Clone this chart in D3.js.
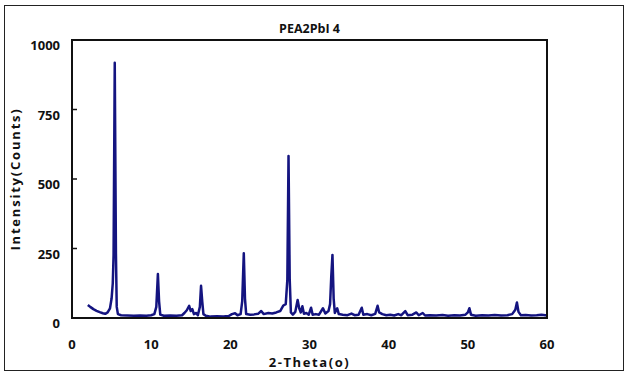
<!DOCTYPE html>
<html lang="en">
<head>
<meta charset="UTF-8">
<title>PEA2PbI4 XRD</title>
<script src="https://d3js.org/d3.v7.min.js"></script>
<style>
    body { margin: 0; background: #fff; }
    text { font-family: "Open Sans", "DejaVu Sans", sans-serif; font-weight: 700; fill: #111; }
</style>
</head>
<body>
<div id="chart"></div>
<script>
// XRD pattern (2-theta in degrees, intensity in counts)
var twoTheta = [2.0, 2.3, 2.7, 3.1, 3.5, 3.9, 4.2, 4.5, 4.8, 5.0, 5.15, 5.25, 5.4, 5.55, 5.65, 5.8, 6.2, 7.0, 7.8, 8.6,
    9.4, 10.0, 10.4, 10.65, 10.85, 11.0, 11.15, 11.6, 12.4, 13.2, 13.9, 14.2, 14.5, 14.8, 15.0, 15.2, 15.4, 15.7, 15.9, 16.15,
    16.3, 16.45, 16.6, 16.9, 17.5, 18.3, 19.1, 19.8, 20.2, 20.6, 20.9, 21.3, 21.5, 21.7, 21.85, 22.0, 22.5, 23.0, 23.5, 23.9,
    24.2, 24.8, 25.3, 25.8, 26.3, 26.7, 27.0, 27.2, 27.35, 27.5, 27.65, 27.9, 28.2, 28.5, 28.7, 28.9, 29.1, 29.3, 29.6, 29.9,
    30.2, 30.4, 30.8, 31.2, 31.7, 32.0, 32.4, 32.6, 32.75, 32.9, 33.05, 33.2, 33.5, 33.7, 34.2, 34.8, 35.3, 35.7, 36.2, 36.6,
    36.8, 37.3, 37.8, 38.3, 38.6, 38.8, 39.2, 39.7, 40.2, 40.7, 41.2, 41.6, 42.1, 42.4, 43.0, 43.5, 43.8, 44.3, 44.6, 45.2,
    46.0, 46.8, 47.5, 48.3, 49.0, 49.7, 50.0, 50.2, 50.4, 51.0, 51.8, 52.6, 53.4, 54.2, 55.0, 55.6, 56.0, 56.2, 56.4, 56.7,
    57.3, 58.0, 58.7, 59.3, 60.0];
var counts = [47, 40, 32, 26, 21, 17, 15, 20, 35, 70, 125, 225, 918, 230, 40, 14, 10, 9, 8, 9,
    8, 10, 14, 40, 158, 60, 12, 8, 9, 8, 10, 18, 28, 44, 25, 32, 14, 18, 10, 40,
    116, 60, 14, 8, 5, 6, 5, 7, 14, 17, 10, 14, 60, 233, 70, 14, 12, 13, 15, 25,
    14, 18, 16, 20, 25, 45, 50, 137, 583, 140, 20, 12, 22, 65, 35, 20, 42, 15, 18, 12,
    37, 12, 14, 12, 35, 16, 25, 50, 150, 227, 70, 18, 35, 14, 12, 10, 16, 10, 12, 37,
    12, 14, 10, 15, 44, 20, 14, 10, 12, 9, 14, 10, 25, 10, 12, 20, 10, 18, 9, 10,
    9, 11, 8, 10, 9, 12, 20, 35, 12, 8, 10, 9, 11, 9, 10, 14, 30, 56, 22, 10,
    11, 9, 10, 12, 9];

var xTicks = [0, 10, 20, 30, 40, 50, 60];
var yTicks = [0, 250, 500, 750, 1000];

var chartTitle = "PEA2PbI 4";
var xTitle = "2-Theta(o)";
var yTitle = "Intensity(Counts)";

var width = 630, height = 375;
var margin = {left: 72, right: 83, top: 40, bottom: 57};

var svg = d3.select("#chart").append("svg")
    .attr("width", width)
    .attr("height", height);

// outer frame
svg.append("rect")
    .attr("x", 4.5).attr("y", 5.5)
    .attr("width", 619).attr("height", 365)
    .attr("fill", "none")
    .attr("stroke", "#222")
    .attr("stroke-width", 1);

var x = d3.scaleLinear().domain([0, 60]).range([margin.left, width - margin.right]);
var y = d3.scaleLinear().domain([0, 1000]).range([height - margin.bottom, margin.top]);

// inward y ticks
svg.append("g")
    .selectAll("line")
    .data(yTicks.slice(1, -1))
    .enter().append("line")
    .attr("x1", x(0)).attr("x2", x(0) + 5)
    .attr("y1", function(d) { return y(d); })
    .attr("y2", function(d) { return y(d); })
    .attr("stroke", "#111")
    .attr("stroke-width", 1.5);

// y tick labels (sit a little below their ticks, like the original)
svg.append("g")
    .selectAll("text")
    .data(yTicks)
    .enter().append("text")
    .attr("x", x(0) - 12)
    .attr("y", function(d) { return y(d) + 10; })
    .attr("text-anchor", "end")
    .attr("font-size", 13)
    .text(function(d) { return d; });

// x tick labels
svg.append("g")
    .selectAll("text")
    .data(xTicks)
    .enter().append("text")
    .attr("x", function(d) { return x(d); })
    .attr("y", 349)
    .attr("text-anchor", "middle")
    .attr("font-size", 13)
    .text(function(d) { return d; });

var line = d3.line()
    .x(function(d, i) { return x(twoTheta[i]); })
    .y(function(d) { return y(d); });

svg.append("path")
    .datum(counts)
    .attr("d", line)
    .attr("fill", "none")
    .attr("stroke", "#141480")
    .attr("stroke-width", 2.5)
    .attr("stroke-linejoin", "round");

// plot frame
svg.append("rect")
    .attr("x", x(0)).attr("y", y(1000))
    .attr("width", x(60) - x(0))
    .attr("height", y(0) - y(1000))
    .attr("fill", "none")
    .attr("stroke", "#111")
    .attr("stroke-width", 2);

svg.append("text")
    .attr("x", (x(0) + x(60)) / 2)
    .attr("y", 33)
    .attr("text-anchor", "middle")
    .attr("font-size", 12.5)
    .text(chartTitle);

svg.append("text")
    .attr("x", (x(0) + x(60)) / 2)
    .attr("y", 367)
    .attr("text-anchor", "middle")
    .attr("font-size", 13)
    .attr("letter-spacing", 1.6)
    .text(xTitle);

svg.append("text")
    .attr("transform", "translate(20," + ((y(0) + y(1000)) / 2) + ") rotate(-90)")
    .attr("text-anchor", "middle")
    .attr("font-size", 13)
    .attr("letter-spacing", 1.8)
    .text(yTitle);
</script>
</body>
</html>
